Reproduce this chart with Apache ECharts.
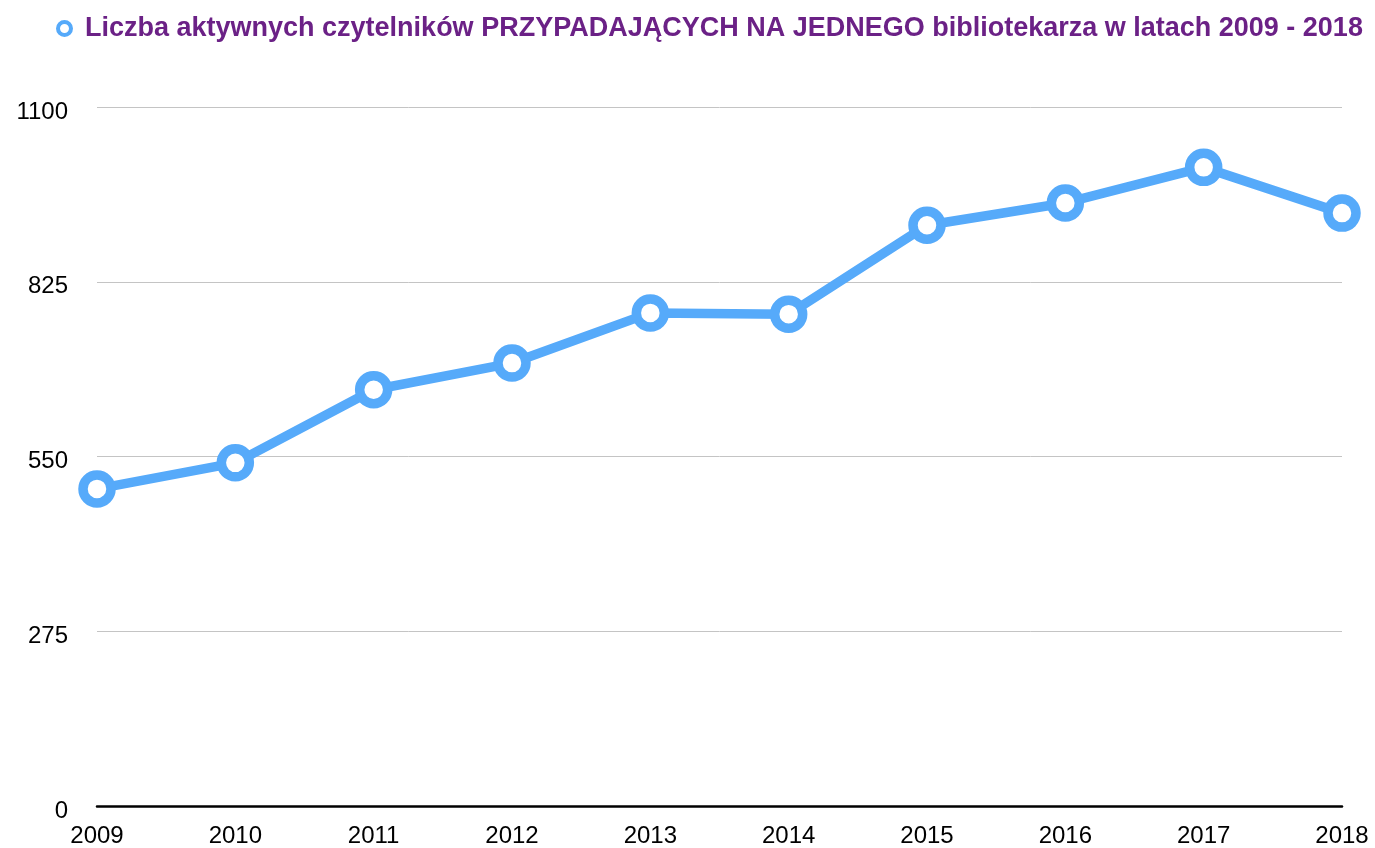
<!DOCTYPE html>
<html>
<head>
<meta charset="utf-8">
<script src="https://cdn.jsdelivr.net/npm/echarts@6/dist/echarts.min.js"></script>
<style>
  html, body { margin: 0; padding: 0; background: #fff; }
  #chart { width: 1375px; height: 848px; }
</style>
</head>
<body>
<div id="chart"></div>
<script>
// dane
const years = ['2009', '2010', '2011', '2012', '2013', '2014', '2015', '2016', '2017', '2018']
const readersPerLibrarian = [499, 540, 655, 697, 776, 774, 914, 949, 1005, 933]
const seriesName = 'Liczba aktywnych czytelników PRZYPADAJĄCYCH NA JEDNEGO bibliotekarza w latach 2009 - 2018'
const yTicks = [0, 275, 550, 825, 1100]

const blue = '#56aafa'
const font = 'Liberation Sans, Arial, Helvetica, sans-serif'

const chart = echarts.init(document.getElementById('chart'))
chart.setOption({
  animation: false,
  legend: {
    left: 51,
    top: 10,
    icon: 'circle',
    itemWidth: 13,
    itemHeight: 13,
    itemStyle: {
      color: '#fff',
      borderColor: blue,
      borderWidth: 4
    },
    textStyle: {
      color: '#6b2186',
      fontSize: 27,
      fontWeight: 'bold',
      fontFamily: font,
      padding: [0, 0, 0, 9]
    },
    data: [seriesName]
  },
  grid: {
    left: 97,
    right: 33,
    top: 107,
    bottom: 42,
    containLabel: false
  },
  xAxis: {
    type: 'category',
    data: years,
    boundaryGap: false,
    axisLine: {
      show: true,
      lineStyle: { color: '#000', width: 2.5 }
    },
    axisTick: { show: false },
    axisLabel: {
      color: '#000',
      fontSize: 24,
      fontFamily: font,
      margin: 18
    },
    splitLine: { show: false }
  },
  yAxis: {
    type: 'value',
    min: yTicks[0],
    max: yTicks[yTicks.length - 1],
    interval: yTicks[1] - yTicks[0],
    axisLine: { show: false },
    axisTick: { show: false },
    axisLabel: {
      color: '#000',
      fontSize: 24,
      fontFamily: font,
      margin: 29,
      verticalAlign: 'top',
      lineHeight: 10,
      formatter: function (v) { return String(v) }
    },
    splitLine: {
      show: true,
      lineStyle: { color: '#c4c4c4', width: 1 }
    }
  },
  series: [
    {
      name: seriesName,
      type: 'line',
      data: readersPerLibrarian,
      symbol: 'circle',
      symbolSize: 28,
      lineStyle: { color: blue, width: 9.5 },
      itemStyle: {
        color: '#fff',
        borderColor: blue,
        borderWidth: 9.5
      },
      z: 3
    }
  ]
})
</script>
</body>
</html>
